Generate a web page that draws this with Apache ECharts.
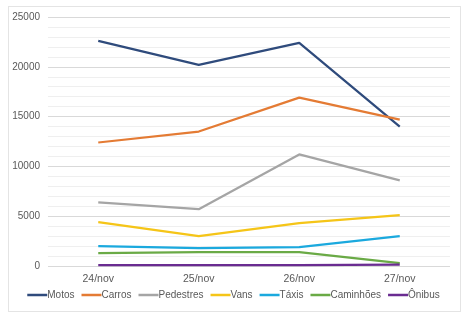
<!DOCTYPE html>
<html><head><meta charset="utf-8">
<script src="https://cdn.jsdelivr.net/npm/echarts@6/dist/echarts.min.js"></script>
<style>html,body{margin:0;padding:0;background:#fff}#c{width:467px;height:320px}
#frame{position:absolute;left:8px;top:6px;width:453px;height:306px;border:1px solid #e4e4e4;box-sizing:border-box;pointer-events:none}</style>
</head><body><div id="c"></div><div id="frame"></div>
<script>
var categories = ['24/nov', '25/nov', '26/nov', '27/nov'];
var seriesNames = ['Motos', 'Carros', 'Pedestres', 'Vans', 'Táxis', 'Caminhões', 'Ônibus'];
var motos = [22600, 20200, 22400, 14000];
var carros = [12400, 13500, 16900, 14700];
var pedestres = [6400, 5700, 11200, 8600];
var vans = [4400, 3000, 4300, 5100];
var taxis = [2000, 1800, 1900, 3000];
var caminhoes = [1300, 1400, 1400, 300];
var onibus = [100, 100, 100, 130];
var yTicks = [0, 5000, 10000, 15000, 20000, 25000];

var values = [motos, carros, pedestres, vans, taxis, caminhoes, onibus];
var colors = ['#2F4B7C', '#E47B34', '#A5A5A5', '#F5C518', '#1BA9DE', '#6AAA46', '#6A2C91'];

var chart = echarts.init(document.getElementById('c'));
chart.setOption({
  animation: false,
  textStyle: {fontFamily: 'Liberation Sans, Arial, sans-serif'},
  color: colors,
  grid: {left: 48, right: 17, top: 17, bottom: 54},
  legend: {
    bottom: 15, left: 'center', icon: 'rect', itemWidth: 20, itemHeight: 2.5, itemGap: 7,
    textStyle: {color: '#595959', fontSize: 10, padding: [0, 0, 0, -5]},
    data: seriesNames
  },
  xAxis: {
    type: 'category', data: categories, boundaryGap: true,
    axisLine: {show: false}, axisTick: {show: false},
    axisLabel: {color: '#595959', fontSize: 10.5, margin: 8}
  },
  yAxis: {
    type: 'value', min: yTicks[0], max: yTicks[yTicks.length - 1], interval: 5000,
    axisLine: {show: false}, axisTick: {show: false},
    axisLabel: {color: '#595959', fontSize: 10, margin: 8, formatter: function (v) { return String(v); }},
    splitLine: {lineStyle: {color: '#d9d9d9', width: 1}},
    minorTick: {show: false, splitNumber: 5},
    minorSplitLine: {show: true, lineStyle: {color: '#efefef', width: 1}}
  },
  series: seriesNames.map(function (n, i) {
    return {name: n, type: 'line', data: values[i], symbol: 'none',
      lineStyle: {width: 2.25, color: colors[i]}, itemStyle: {color: colors[i]}};
  })
});
</script></body></html>
